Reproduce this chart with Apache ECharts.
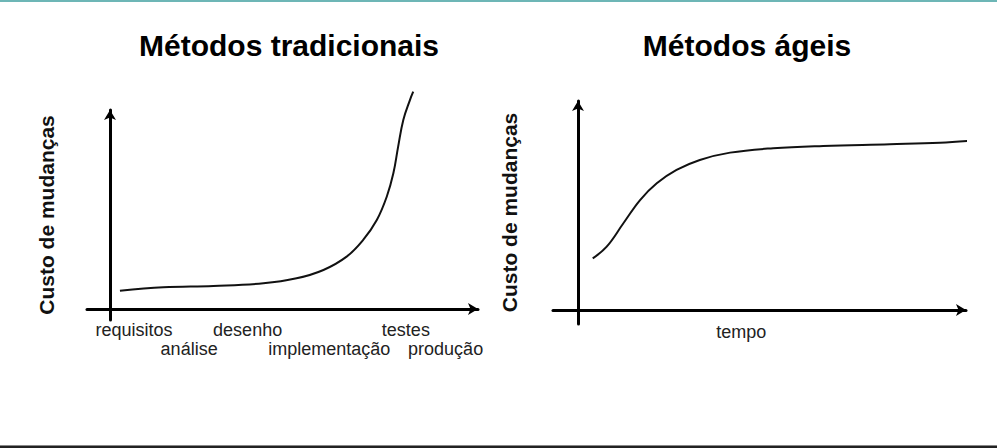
<!DOCTYPE html>
<html>
<head>
<meta charset="utf-8">
<script src="https://cdn.jsdelivr.net/npm/echarts@6/dist/echarts.min.js"></script>
<style>
html,body{margin:0;padding:0;background:#fff;}
#c{width:997px;height:448px;}
</style>
</head>
<body>
<div id="c"></div>
<script>
// Left panel: traditional methods (x, y) in arbitrary 0-100 units
const tradX = [2.7, 14.5, 28.1, 41.7, 50.7, 58.0, 64.3, 68.8, 72.5, 75.2, 77.0, 78.3, 79.7, 81.5, 82.4];
const tradY = [9.2, 10.9, 11.6, 12.9, 15.4, 19.6, 26.3, 34.7, 44.7, 56.4, 68.2, 81.6, 95.0, 105.0, 109.2];
// Left x-axis phase labels (two staggered rows) and their positions
const phaseRow1 = ['requisitos', 'desenho', 'testes'];
const phaseRow1Pos = [6.5, 37.4, 80.4];
const phaseRow2 = ['análise', 'implementação', 'produção'];
const phaseRow2Pos = [21.5, 59.6, 91.2];

// Right panel: agile methods
const agileX = [3.8, 7.4, 11.7, 16.0, 20.3, 25.4, 31.4, 39.2, 50.3, 63.2, 80.4, 93.3, 101.5];
const agileY = [24.7, 30.3, 41.5, 52.6, 60.6, 67.0, 71.8, 75.3, 77.4, 78.5, 79.3, 80.0, 81.0];
const timeLabels = ['tempo'];
const timePos = [42.1];

const titles = ['Métodos tradicionais', 'Métodos ágeis'];
const yName = 'Custo de mudanças';

const FONT = '"Liberation Sans", Arial, sans-serif';

function zip(xs, ys) { return xs.map((x, i) => [x, ys[i]]); }

const axisLineStyle = {
  show: true,
  onZero: true,
  symbol: ['none', 'arrow'],
  symbolSize: [9, 10],
  lineStyle: { color: '#000', width: 3 }
};

function xAxisCfg(gridIndex, min, labelsArr, posArr, margin, showLine) {
  return {
    type: 'value', gridIndex, min, max: 100,
    position: 'bottom',
    axisLine: showLine ? axisLineStyle : { show: false, onZero: false },
    axisTick: { show: false },
    splitLine: { show: false },
    axisLabel: {
      show: true,
      customValues: posArr,
      margin: margin,
      fontFamily: FONT,
      fontSize: 18,
      color: '#222',
      lineHeight: 19,
      hideOverlap: false,
      showMinLabel: true,
      showMaxLabel: true,
      formatter: function (v) {
        const i = posArr.indexOf(v);
        return i < 0 ? '' : labelsArr[i];
      }
    }
  };
}

function yAxisCfg(gridIndex, min, gap) {
  return {
    type: 'value', gridIndex, min, max: 100,
    axisLine: axisLineStyle,
    axisTick: { show: false },
    splitLine: { show: false },
    axisLabel: { show: false },
    name: yName,
    nameLocation: 'middle',
    nameRotate: 90,
    nameGap: gap,
    nameTextStyle: { fontFamily: FONT, fontSize: 21, fontWeight: 'bold', color: '#111' }
  };
}

const chart = echarts.init(document.getElementById('c'), null, { renderer: 'svg' });
chart.setOption({
  backgroundColor: '#fff',
  animation: false,
  title: [
    { text: titles[0], left: 284, top: 25, textAlign: 'center',
      textStyle: { fontFamily: FONT, fontSize: 30, fontWeight: 'bold', color: '#000' } },
    { text: titles[1], left: 742, top: 25, textAlign: 'center',
      textStyle: { fontFamily: FONT, fontSize: 30, fontWeight: 'bold', color: '#000' } }
  ],
  grid: [
    { left: 87, right: 997 - 478, top: 110, bottom: 448 - 320, containLabel: false, outerBoundsMode: 'none' },
    { left: 553, right: 997 - 966, top: 101, bottom: 448 - 324, containLabel: false, outerBoundsMode: 'none' }
  ],
  xAxis: [
    xAxisCfg(0, -6.25, phaseRow1, phaseRow1Pos, 0, true),
    xAxisCfg(1, -6.44, timeLabels, timePos, -2, true),
    xAxisCfg(0, -6.25, phaseRow2, phaseRow2Pos, 19.5, false)
  ],
  yAxis: [
    yAxisCfg(0, -5.53, 30),
    yAxisCfg(1, -6.7, 33)
  ],
  series: [
    { type: 'line', xAxisIndex: 0, yAxisIndex: 0, data: zip(tradX, tradY), smooth: 0.4,
      showSymbol: false, clip: false, lineStyle: { color: '#111', width: 2 } },
    { type: 'line', xAxisIndex: 1, yAxisIndex: 1, data: zip(agileX, agileY), smooth: 0.4,
      showSymbol: false, clip: false, lineStyle: { color: '#111', width: 2 } }
  ],
  graphic: [
    { type: 'rect', left: 0, top: 0, shape: { width: 997, height: 2 }, style: { fill: '#6db6b6' }, silent: true },
    { type: 'rect', left: 0, top: 445, shape: { width: 997, height: 1 }, style: { fill: '#888' }, silent: true },
    { type: 'rect', left: 0, top: 446, shape: { width: 997, height: 2 }, style: { fill: '#222' }, silent: true }
  ]
});
</script>
</body>
</html>
